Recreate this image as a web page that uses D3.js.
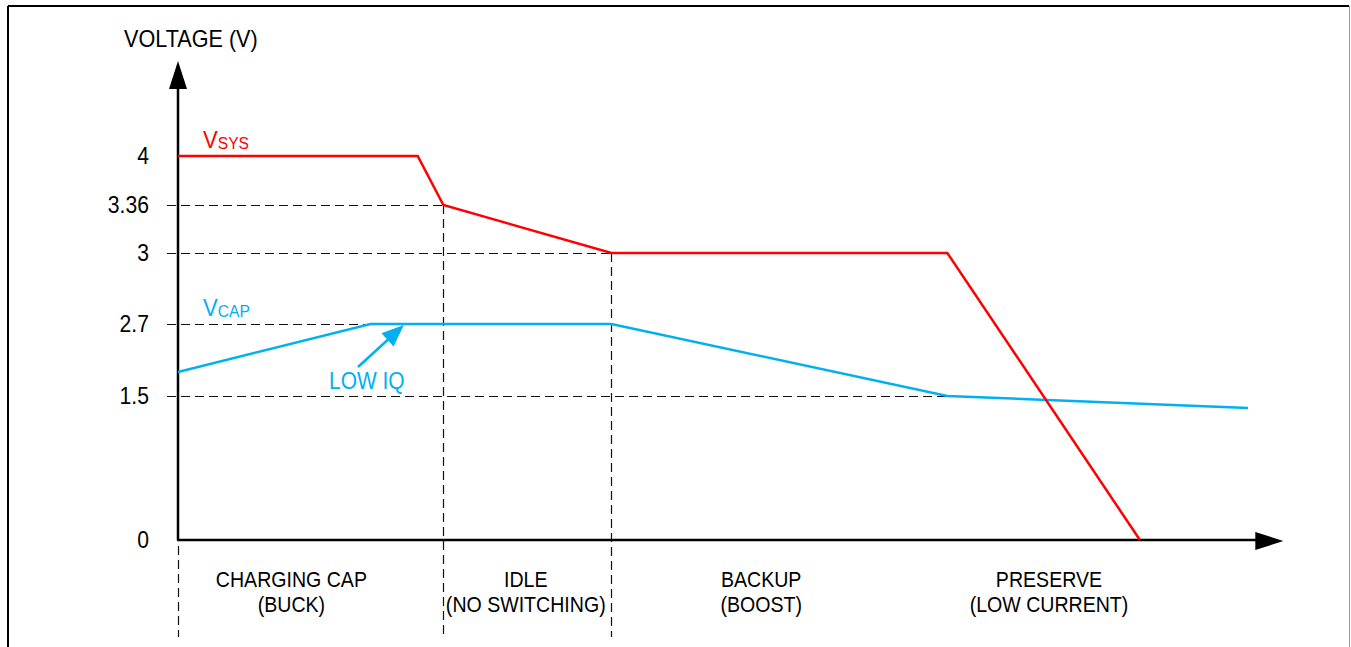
<!DOCTYPE html>
<html>
<head>
<meta charset="utf-8">
<script src="https://cdn.jsdelivr.net/npm/d3@7"></script>
<style>
  body { margin: 0; background: #fff; }
  text { font-family: "Liberation Sans", Arial, sans-serif; }
</style>
</head>
<body>
<div id="chart"></div>
<script>
// time is schematic (no units), voltage axis is schematic too
var yTicks = [0, 1.5, 2.7, 3, 3.36, 4];
var yTickLabels = ["0", "1.5", "2.7", "3", "3.36", "4"];

var sysTime = [0, 22.4, 24.8, 40.5, 71.9, 89.9];
var sysVolt = [4, 4, 3.36, 3, 3, 0];

var capTime = [0, 18, 40.5, 71.9, 100];
var capVolt = [1.9, 2.7, 2.7, 1.5, 1.375];

var phaseBounds = [0, 24.8, 40.5];
var phaseNames = ["CHARGING CAP", "IDLE", "BACKUP", "PRESERVE"];
var phaseSubs = ["(BUCK)", "(NO SWITCHING)", "(BOOST)", "(LOW CURRENT)"];
var phaseCenters = [10.6, 32.5, 54.5, 81.4];

// where each dashed guide line stops
var guideVolt = [3.36, 3, 2.7, 1.5];
var guideEnd = [24.8, 40.5, 40.5, 71.9];

var W = 1351, H = 647;
var red = "#ff0000", blue = "#00b0f0";
var sx = 0.89; // the original font is a bit condensed

var svg = d3.select("#chart")
    .append("svg")
    .attr("width", W)
    .attr("height", H);

var x = d3.scaleLinear().domain([0, 100]).range([178, 1248]);
var y = d3.scaleLinear()
    .domain([0, 1.5, 2.7, 3, 3.36, 4])
    .range([540, 396, 324, 253, 205, 156]);

function px(v) { return Math.round(v) + 0.5; }
function tr(a, b, s) { return "translate(" + a + "," + b + ") scale(" + (s || sx) + ",1)"; }

var xEnd = 103.3;   // arrow tip in time units
var yTop = 61;

// frame
svg.append("line").attr("x1", 8).attr("y1", 6).attr("x2", 1349).attr("y2", 6)
    .attr("stroke", "#000").attr("stroke-width", 2);
svg.append("line").attr("x1", 8).attr("y1", 6).attr("x2", 8).attr("y2", H)
    .attr("stroke", "#000").attr("stroke-width", 2);
svg.append("line").attr("x1", 1349.5).attr("y1", 6).attr("x2", 1349.5).attr("y2", H)
    .attr("stroke", "#999").attr("stroke-width", 1);

var dash = "9,5";

// horizontal guides
svg.selectAll(".hguide")
    .data(guideVolt)
    .enter().append("line")
    .attr("class", "hguide")
    .attr("x1", 167)
    .attr("x2", function(d, i) { return x(guideEnd[i]); })
    .attr("y1", function(d) { return px(y(d)); })
    .attr("y2", function(d) { return px(y(d)); })
    .attr("stroke", "#111")
    .attr("stroke-width", 1.2)
    .attr("stroke-dasharray", dash);

// vertical phase guides
svg.selectAll(".vguide")
    .data(phaseBounds)
    .enter().append("line")
    .attr("class", "vguide")
    .attr("x1", function(d) { return px(x(d)); })
    .attr("x2", function(d) { return px(x(d)); })
    .attr("y1", function(d, i) { return i == 0 ? y(0) + 6 : y(sysVolt[i + 1]); })
    .attr("y2", 637)
    .attr("stroke", "#111")
    .attr("stroke-width", 1.2)
    .attr("stroke-dasharray", dash);

// axes with arrows
svg.append("line")
    .attr("x1", x(0)).attr("y1", y(0))
    .attr("x2", x(0)).attr("y2", yTop + 24)
    .attr("stroke", "#000").attr("stroke-width", 2.5);
svg.append("path")
    .attr("d", d3.line()([[x(0), yTop], [x(0) - 9, yTop + 28], [x(0) + 9, yTop + 28]]) + "Z")
    .attr("fill", "#000");

svg.append("line")
    .attr("x1", x(0) - 1).attr("y1", y(0))
    .attr("x2", x(xEnd) - 24).attr("y2", y(0))
    .attr("stroke", "#000").attr("stroke-width", 2.5);
svg.append("path")
    .attr("d", d3.line()([[x(xEnd), y(0) + 1], [x(xEnd) - 28, y(0) - 8], [x(xEnd) - 28, y(0) + 10]]) + "Z")
    .attr("fill", "#000");

// tick labels
svg.selectAll(".ytick")
    .data(yTicks)
    .enter().append("text")
    .attr("class", "ytick")
    .attr("transform", function(d) { return tr(149, y(d) + 8, 0.92); })
    .attr("text-anchor", "end")
    .attr("font-size", 23)
    .attr("fill", "#000")
    .text(function(d, i) { return yTickLabels[i]; });

svg.append("text")
    .attr("transform", tr(124, 47, 0.94))
    .attr("font-size", 23)
    .text("VOLTAGE (V)");

// series
var line = d3.line();
svg.append("path")
    .datum(d3.zip(capTime, capVolt))
    .attr("d", line.x(function(d) { return x(d[0]); }).y(function(d) { return y(d[1]); }))
    .attr("fill", "none")
    .attr("stroke", blue)
    .attr("stroke-width", 2.5);

svg.append("path")
    .datum(d3.zip(sysTime, sysVolt))
    .attr("d", line)
    .attr("fill", "none")
    .attr("stroke", red)
    .attr("stroke-width", 2.5);

// series labels
var lab = svg.append("text").attr("transform", tr(203, 148, 0.92)).attr("fill", red).attr("font-size", 24);
lab.append("tspan").text("V");
lab.append("tspan").attr("font-size", 17).attr("dy", 1).text("SYS");

var lab2 = svg.append("text").attr("transform", tr(203, 316, 0.92)).attr("fill", blue).attr("font-size", 24);
lab2.append("tspan").text("V");
lab2.append("tspan").attr("font-size", 17).attr("dy", 1).text("CAP");

// LOW IQ callout
var tip = [x(21.1), y(2.7) + 1];
svg.append("line")
    .attr("x1", 358).attr("y1", 367)
    .attr("x2", tip[0] - 14).attr("y2", tip[1] + 13)
    .attr("stroke", blue).attr("stroke-width", 2.5);
var ang = Math.atan2(367 - tip[1], 358 - tip[0]);
var hl = 22, hw = 9;
var bx = tip[0] + hl * Math.cos(ang), by = tip[1] + hl * Math.sin(ang);
svg.append("path")
    .attr("d", d3.line()([tip,
        [bx + hw * Math.sin(ang), by - hw * Math.cos(ang)],
        [bx - hw * Math.sin(ang), by + hw * Math.cos(ang)]]) + "Z")
    .attr("fill", blue);
svg.append("text")
    .attr("transform", tr(329, 389, 0.91))
    .attr("font-size", 23)
    .attr("fill", blue)
    .text("LOW IQ");

// phase labels
svg.selectAll(".phase")
    .data(phaseNames)
    .enter().append("text")
    .attr("class", "phase")
    .attr("transform", function(d, i) { return tr(x(phaseCenters[i]), 587); })
    .attr("text-anchor", "middle")
    .attr("font-size", 22)
    .text(function(d) { return d; });

svg.selectAll(".phasesub")
    .data(phaseSubs)
    .enter().append("text")
    .attr("class", "phasesub")
    .attr("transform", function(d, i) { return tr(x(phaseCenters[i]), 612); })
    .attr("text-anchor", "middle")
    .attr("font-size", 22)
    .text(function(d) { return d; });
</script>
</body>
</html>
